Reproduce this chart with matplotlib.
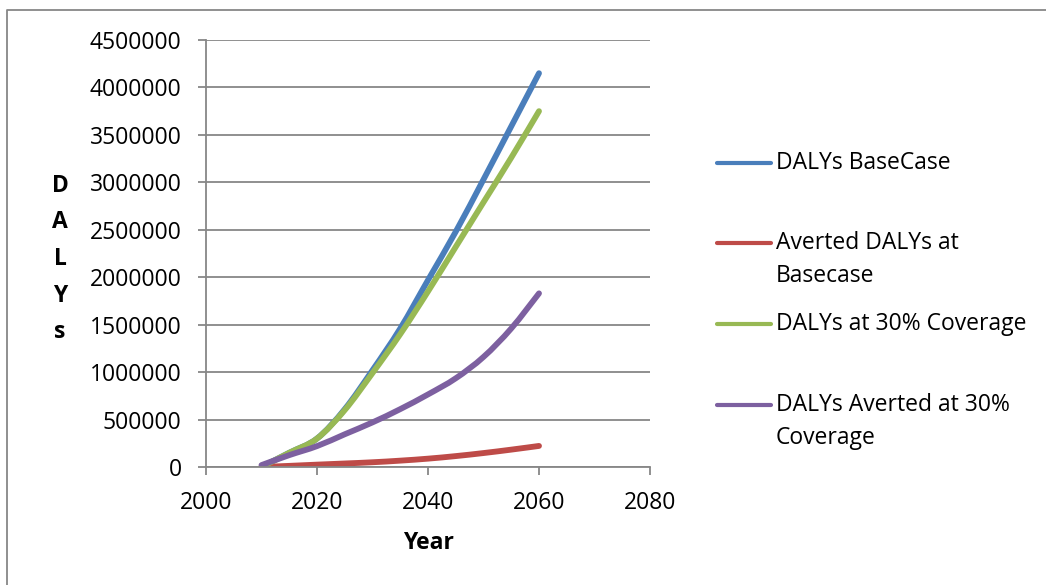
import matplotlib
matplotlib.use('Agg')
import matplotlib.pyplot as plt
from matplotlib.lines import Line2D
from matplotlib.path import Path
from matplotlib.patches import PathPatch

plt.rcParams['font.family'] = ['Open Sans', 'DejaVu Sans']

# projection years and DALY series
years = [2010, 2015, 2020, 2025, 2030, 2035, 2040, 2045, 2050, 2055, 2060]
dalys_basecase = [0, 150000, 300000, 610000, 1020000, 1460000, 1970000, 2480000, 3030000, 3590000, 4150000]
averted_basecase = [0, 12000, 25000, 37000, 50000, 67000, 88000, 115000, 147000, 183000, 222000]
dalys_30 = [0, 150000, 300000, 600000, 990000, 1400000, 1850000, 2320000, 2790000, 3260000, 3750000]
averted_30 = [20000, 125000, 220000, 345000, 470000, 610000, 765000, 935000, 1160000, 1460000, 1830000]

labels = ['DALYs BaseCase', 'Averted DALYs at\nBasecase', 'DALYs at 30% Coverage',
          'DALYs Averted at 30%\nCoverage']
colors = ['#4A7EBB', '#BE4B48', '#98B954', '#7D60A0']
series = [dalys_basecase, averted_basecase, dalys_30, averted_30]

x_ticks = [2000, 2020, 2040, 2060, 2080]
y_ticks = [0, 500000, 1000000, 1500000, 2000000, 2500000, 3000000, 3500000, 4000000, 4500000]


def smooth_path(xs, ys):
    # cubic Bezier through every point, like a spreadsheet "smoothed line"
    verts = [(xs[0], ys[0])]
    codes = [Path.MOVETO]
    n = len(xs)
    for i in range(n - 1):
        x0, y0 = xs[max(i - 1, 0)], ys[max(i - 1, 0)]
        x1, y1 = xs[i], ys[i]
        x2, y2 = xs[i + 1], ys[i + 1]
        x3, y3 = xs[min(i + 2, n - 1)], ys[min(i + 2, n - 1)]
        c1 = (x1 + (x2 - x0) / 6, y1 + (y2 - y0) / 6)
        c2 = (x2 - (x3 - x1) / 6, y2 - (y3 - y1) / 6)
        verts += [c1, c2, (x2, y2)]
        codes += [Path.CURVE4] * 3
    return Path(verts, codes)


W, H = 1046, 585
fig = plt.figure(figsize=(W / 100, H / 100), dpi=100)
ax = fig.add_axes([206 / W, 1 - 467 / H, (650 - 206) / W, (467 - 40) / H])

grey = '#878787'
fs = 16.5

for s, c in zip(series, colors):
    p = PathPatch(smooth_path(years, s), fill=False, edgecolor=c, lw=4.2,
                  capstyle='round', joinstyle='round')
    ax.add_patch(p)

ax.set_xlim(2000, 2080)
ax.set_ylim(0, 4500000)
ax.set_xticks(x_ticks)
ax.set_xticklabels([str(t) for t in x_ticks])
ax.set_yticks(y_ticks)
ax.set_yticklabels([str(t) for t in y_ticks])
ax.yaxis.grid(True, color=grey, lw=1.3)
ax.set_axisbelow(True)
for side in ['top', 'right']:
    ax.spines[side].set_visible(False)
for side in ['left', 'bottom']:
    ax.spines[side].set_color(grey)
    ax.spines[side].set_linewidth(1.3)
ax.tick_params(axis='both', colors=grey, width=1.3, length=5.5, labelcolor='black', labelsize=fs)
ax.tick_params(axis='y', pad=12)
ax.tick_params(axis='x', pad=12)

# axis titles
fig.text(428 / W, 1 - 543 / H, 'Year', ha='center', va='center', fontsize=fs, fontweight='bold')
fig.text(60 / W, 1 - 259 / H, 'D\nA\nL\nY\ns', ha='center', va='center', fontsize=fs,
         fontweight='bold', linespacing=1.7, multialignment='center')

# legend drawn beside the plot
leg_y = [163, 243, 324, 405]
for lab, c, y in zip(labels, colors, leg_y):
    fig.add_artist(Line2D([717 / W, 771 / W], [1 - y / H, 1 - y / H], color=c, lw=3,
                          solid_capstyle='round', transform=fig.transFigure))
    for k, part in enumerate(lab.split('\n')):
        fig.text(776 / W, 1 - (y + k * 32.7) / H, part, ha='left', va='center', fontsize=fs)

# chart frame
fig.add_artist(Line2D([7 / W, 7 / W, 1.0], [0.0, 1 - 10 / H, 1 - 10 / H], color=grey, lw=1.3,
                      transform=fig.transFigure))

fig.savefig('out.png', dpi=100)
